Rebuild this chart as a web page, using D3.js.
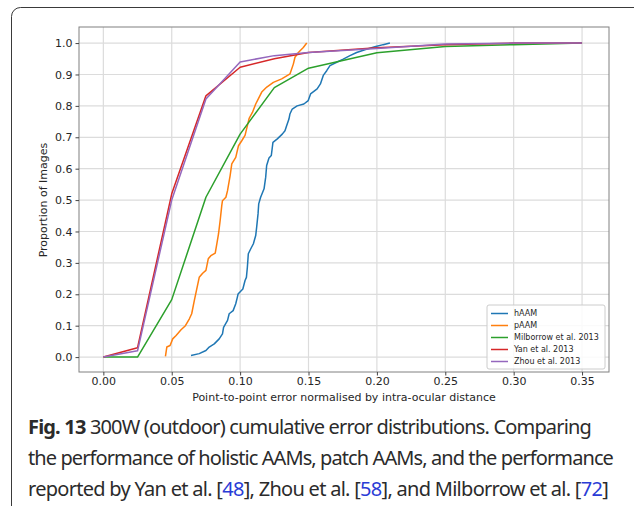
<!DOCTYPE html>
<html>
<head>
<meta charset="utf-8">
<script src="https://cdn.jsdelivr.net/npm/d3@7"></script>
<style>
  body { margin: 0; background: #fff; }
  svg { display: block; }
</style>
</head>
<body>
<div id="chart"></div>
<script>
// series names (legend order)
const seriesNames = ["hAAM", "pAAM", "Milborrow et al. 2013", "Yan et al. 2013", "Zhou et al. 2013"];
const seriesColors = ["#1f77b4", "#ff7f0e", "#2ca02c", "#d62728", "#9467bd"];

// hAAM cumulative error curve
const hAAMx = [0.0641,0.0701,0.0750,0.0774,0.0811,0.0847,0.0871,0.0879,0.0908,0.0920,0.0949,0.0968,0.0980,0.0985,0.1020,0.1036,0.1046,0.1053,0.1060,0.1078,0.1097,0.1114,0.1121,0.1131,0.1136,0.1150,0.1175,0.1187,0.1194,0.1211,0.1228,0.1240,0.1272,0.1308,0.1328,0.1340,0.1357,0.1364,0.1381,0.1417,0.1466,0.1498,0.1515,0.1563,0.1587,0.1608,0.1633,0.1657,0.1706,0.1754,0.1803,0.1852,0.1912,0.1985,0.2046,0.2095];
const hAAMy = [0.005,0.011,0.021,0.032,0.042,0.058,0.074,0.095,0.117,0.138,0.148,0.170,0.191,0.201,0.217,0.244,0.254,0.286,0.329,0.345,0.361,0.387,0.414,0.456,0.488,0.509,0.536,0.573,0.610,0.634,0.642,0.684,0.695,0.710,0.721,0.737,0.758,0.774,0.790,0.800,0.806,0.817,0.838,0.854,0.870,0.897,0.912,0.928,0.939,0.949,0.960,0.970,0.979,0.988,0.995,1.0];

// pAAM cumulative error curve
const pAAMx = [0.0454,0.0464,0.0488,0.0507,0.0532,0.0568,0.0600,0.0629,0.0646,0.0665,0.0701,0.0726,0.0750,0.0767,0.0786,0.0818,0.0830,0.0842,0.0854,0.0866,0.0871,0.0896,0.0908,0.0927,0.0939,0.0968,0.0988,0.1012,0.1036,0.1066,0.1090,0.1114,0.1134,0.1158,0.1195,0.1243,0.1304,0.1365,0.1389,0.1401,0.1426,0.1462,0.1487];
const pAAMy = [0.002,0.032,0.037,0.058,0.069,0.087,0.100,0.122,0.138,0.180,0.254,0.267,0.276,0.313,0.323,0.331,0.361,0.392,0.435,0.483,0.498,0.509,0.530,0.578,0.615,0.636,0.673,0.689,0.706,0.760,0.779,0.806,0.823,0.844,0.860,0.875,0.886,0.902,0.933,0.955,0.970,0.986,1.0];

// reported results (sampled every 0.025)
const milborrowX = [0, 0.025, 0.05, 0.075, 0.1, 0.125, 0.15, 0.2, 0.25, 0.3, 0.35];
const milborrowY = [0, 0, 0.183, 0.509, 0.71, 0.858, 0.92, 0.969, 0.989, 0.995, 1.0];
const yanX = [0, 0.025, 0.05, 0.075, 0.1, 0.125, 0.15, 0.2, 0.25, 0.3, 0.35];
const yanY = [0, 0.03, 0.52, 0.832, 0.923, 0.95, 0.97, 0.985, 0.995, 1.0, 1.0];
const zhouX = [0, 0.025, 0.05, 0.075, 0.1, 0.125, 0.15, 0.2, 0.25, 0.3, 0.35];
const zhouY = [0, 0.02, 0.50, 0.822, 0.94, 0.96, 0.97, 0.983, 0.997, 1.0, 1.0];

const xTicks = [0, 0.05, 0.1, 0.15, 0.2, 0.25, 0.3, 0.35];
const yTicks = [0, 0.1, 0.2, 0.3, 0.4, 0.5, 0.6, 0.7, 0.8, 0.9, 1.0];

const xLabel = "Point-to-point error normalised by intra-ocular distance";
const yLabel = "Proportion of Images";

const width = 634, height = 506;
const plot = { left: 79, right: 609, top: 27, bottom: 372 };

const svg = d3.select("#chart").append("svg")
    .attr("width", width)
    .attr("height", height);

svg.append("rect").attr("width", width).attr("height", height).attr("fill", "#fff");

// outer rounded figure frame
svg.append("rect")
    .attr("x", 11.5).attr("y", 7.5)
    .attr("width", 640).attr("height", 560)
    .attr("rx", 9)
    .attr("fill", "none")
    .attr("stroke", "#3a3a3a")
    .attr("stroke-width", 1);

const xScale = d3.scaleLinear().domain([-0.0178, 0.3697]).range([plot.left, plot.right]);
const yScale = d3.scaleLinear().domain([-0.0475, 1.0512]).range([plot.bottom, plot.top]);

// grid
const grid = svg.append("g");
grid.selectAll(".gx").data(xTicks).enter().append("line")
    .attr("x1", d => xScale(d)).attr("x2", d => xScale(d))
    .attr("y1", plot.top).attr("y2", plot.bottom)
    .attr("stroke", "#dcdcdc").attr("stroke-width", 1.2);
grid.selectAll(".gy").data(yTicks).enter().append("line")
    .attr("x1", plot.left).attr("x2", plot.right)
    .attr("y1", d => yScale(d)).attr("y2", d => yScale(d))
    .attr("stroke", "#dcdcdc").attr("stroke-width", 1.2);

// curves
const series = [
    { x: hAAMx, y: hAAMy },
    { x: pAAMx, y: pAAMy },
    { x: milborrowX, y: milborrowY },
    { x: yanX, y: yanY },
    { x: zhouX, y: zhouY }
];
const line = d3.line().x(d => xScale(d[0])).y(d => yScale(d[1]));
series.forEach((s, i) => {
    svg.append("path")
        .datum(s.x.map((v, j) => [v, s.y[j]]))
        .attr("d", line)
        .attr("fill", "none")
        .attr("stroke", seriesColors[i])
        .attr("stroke-width", 1.5)
        .attr("stroke-linejoin", "round");
});

// frame
svg.append("rect")
    .attr("x", plot.left).attr("y", plot.top)
    .attr("width", plot.right - plot.left).attr("height", plot.bottom - plot.top)
    .attr("fill", "none").attr("stroke", "#808080").attr("stroke-width", 1);

// axes
const xAxis = svg.append("g")
    .attr("transform", `translate(0,${plot.bottom})`)
    .call(d3.axisBottom(xScale).tickValues(xTicks).tickFormat(d3.format(".2f")).tickSize(3.5).tickPadding(2));
const yAxis = svg.append("g")
    .attr("transform", `translate(${plot.left},0)`)
    .call(d3.axisLeft(yScale).tickValues(yTicks).tickFormat(d3.format(".1f")).tickSize(3.5).tickPadding(3));
[xAxis, yAxis].forEach(a => {
    a.select(".domain").remove();
    a.selectAll(".tick line").attr("stroke", "#444");
    a.selectAll("text")
        .attr("font-family", "DejaVu Sans")
        .attr("font-size", 11)
        .attr("fill", "#262626");
});

svg.append("text")
    .attr("x", (plot.left + plot.right) / 2).attr("y", 401)
    .attr("text-anchor", "middle")
    .attr("font-family", "DejaVu Sans").attr("font-size", 11).attr("fill", "#262626")
    .text(xLabel);
svg.append("text")
    .attr("transform", `translate(47,${yScale(0.5)}) rotate(-90)`)
    .attr("text-anchor", "middle")
    .attr("font-family", "DejaVu Sans").attr("font-size", 11).attr("fill", "#262626")
    .text(yLabel);

// legend
const legend = svg.append("g").attr("transform", "translate(487,305)");
legend.append("rect")
    .attr("width", 118).attr("height", 64).attr("rx", 2)
    .attr("fill", "#fff").attr("fill-opacity", 0.85)
    .attr("stroke", "#cccccc");
seriesNames.forEach((name, i) => {
    const y = 8.5 + i * 12;
    legend.append("line")
        .attr("x1", 4).attr("x2", 21).attr("y1", y).attr("y2", y)
        .attr("stroke", seriesColors[i]).attr("stroke-width", 1.5);
    legend.append("text")
        .attr("x", 27).attr("y", y).attr("dy", "0.35em")
        .attr("font-family", "DejaVu Sans").attr("font-size", 8).attr("fill", "#262626")
        .text(name);
});

// caption: condensed with letter-spacing so each line ends where the reference does
const blue = "#2a3cd6";
const captionLines = [
    [{ t: "Fig. 13", b: true }, { t: " 300W (outdoor) cumulative error distributions. Comparing" }],
    [{ t: "the performance of holistic AAMs, patch AAMs, and the performance" }],
    [{ t: "reported by Yan et al. [" }, { t: "48", c: blue }, { t: "], Zhou et al. [" }, { t: "58", c: blue },
     { t: "], and Milborrow et al. [" }, { t: "72", c: blue }, { t: "]" }]
];
const captionWidths = [563, 585, 580];
captionLines.forEach((parts, i) => {
    const txt = svg.append("text")
        .attr("x", 28).attr("y", 434 + i * 31)
        .attr("font-family", "Noto Sans").attr("font-size", 20).attr("fill", "#2b2b2b");
    parts.forEach(p => {
        txt.append("tspan")
            .attr("font-weight", p.b ? "bold" : null)
            .attr("fill", p.c || null)
            .text(p.t);
    });
    const natural = txt.node().getComputedTextLength();
    const nChars = parts.map(p => p.t).join("").length;
    txt.attr("letter-spacing", ((captionWidths[i] - natural) / nChars).toFixed(3));
});
</script>
</body>
</html>
